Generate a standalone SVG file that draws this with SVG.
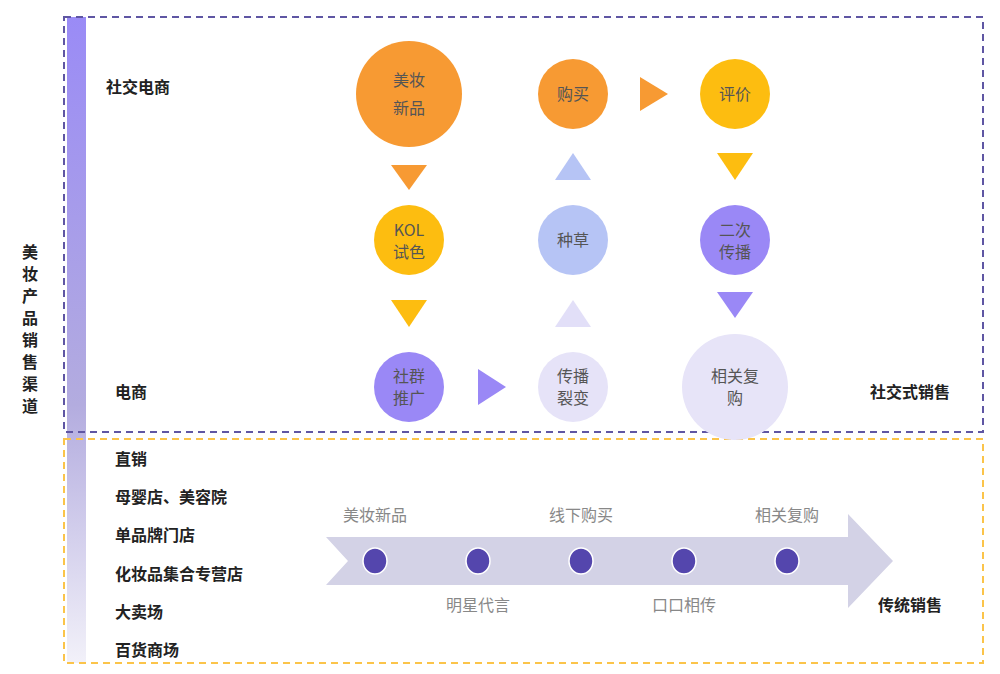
<svg xmlns="http://www.w3.org/2000/svg" width="1000" height="674" viewBox="0 0 1000 674">
<style>
text{font-family:"Noto Sans CJK SC","Noto Sans",sans-serif}
.c{font-size:16px;fill:#555;text-anchor:middle}
.l{font-size:16px;font-weight:bold;fill:#222}
.g{font-size:16px;fill:#888;text-anchor:middle}
</style>
<defs><linearGradient id="bar" x1="0" y1="0" x2="0" y2="1"><stop offset="0" stop-color="#9a8bf6"/><stop offset="0.6" stop-color="#b3acdf"/><stop offset="1" stop-color="#f2f1f9"/></linearGradient></defs>
<rect width="1000" height="674" fill="#fff"/>
<rect x="67" y="17" width="19" height="646" fill="url(#bar)"/>
<rect x="64" y="17" width="919" height="415" fill="none" stroke="#5f56a3" stroke-width="2" stroke-dasharray="7,5"/>
<rect x="64" y="439" width="919" height="224" fill="none" stroke="#fbc44a" stroke-width="2" stroke-dasharray="7,5"/>
<text class="l" x="30" y="258" text-anchor="middle"><tspan x="30" dy="0">美</tspan><tspan x="30" dy="22">妆</tspan><tspan x="30" dy="22">产</tspan><tspan x="30" dy="22">品</tspan><tspan x="30" dy="22">销</tspan><tspan x="30" dy="22">售</tspan><tspan x="30" dy="22">渠</tspan><tspan x="30" dy="22">道</tspan></text>
<text class="l" x="106" y="93">社交电商</text>
<text class="l" x="115" y="398">电商</text>
<text class="l" x="870" y="398">社交式销售</text>
<text class="l" x="115" y="465">直销</text>
<text class="l" x="115" y="503">母婴店、美容院</text>
<text class="l" x="115" y="541">单品牌门店</text>
<text class="l" x="115" y="580">化妆品集合专营店</text>
<text class="l" x="115" y="618">大卖场</text>
<text class="l" x="115" y="656">百货商场</text>
<text class="l" x="878" y="611">传统销售</text>
<g id="connectors">
<polygon points="391,165 427,165 409,190" fill="#f79a33"/>
<polygon points="391,300 427,300 409,327" fill="#fdbd10"/>
<polygon points="555,180 591,180 573,153" fill="#b6c4f5"/>
<polygon points="555,327 591,327 573,300" fill="#e2dff8"/>
<polygon points="640,77 668,94 640,111" fill="#f79a33"/>
<polygon points="717,153 753,153 735,180" fill="#fdbd10"/>
<polygon points="717,292 753,292 735,318" fill="#9a88f6"/>
<polygon points="478,369 506,387 478,405" fill="#9a88f6"/>
</g>
<g id="n1"><circle cx="409" cy="94" r="53" fill="#f79a33"/><text class="c" x="409" y="86">美妆</text><text class="c" x="409" y="114">新品</text></g>
<g id="n2"><circle cx="573" cy="94" r="35" fill="#f79a33"/><text class="c" x="573" y="100">购买</text></g>
<g id="n3"><circle cx="735" cy="94" r="35" fill="#fdbd10"/><text class="c" x="735" y="100">评价</text></g>
<g id="n4"><circle cx="409" cy="240" r="35" fill="#fdbd10"/><text class="c" x="409" y="236">KOL</text><text class="c" x="409" y="258">试色</text></g>
<g id="n5"><circle cx="573" cy="240" r="35" fill="#b6c4f5"/><text class="c" x="573" y="246">种草</text></g>
<g id="n6"><circle cx="735" cy="240" r="35" fill="#9a88f6"/><text class="c" x="735" y="236">二次</text><text class="c" x="735" y="258">传播</text></g>
<g id="n7"><circle cx="409" cy="387" r="35" fill="#9a88f6"/><text class="c" x="409" y="382">社群</text><text class="c" x="409" y="404">推广</text></g>
<g id="n8"><circle cx="573" cy="387" r="35" fill="#e6e3f8"/><text class="c" x="573" y="382">传播</text><text class="c" x="573" y="404">裂变</text></g>
<g id="n9"><circle cx="735" cy="387" r="53" fill="#e7e4f8"/><text class="c" x="735" y="382">相关复</text><text class="c" x="735" y="404">购</text></g>
<g id="timeline">
<polygon points="326,537 848,537 848,514 893,561 848,608 848,585 326,585 348,561" fill="#d3d2e6"/>
<g fill="#5446ad" stroke="#fff" stroke-width="1.5">
<ellipse cx="375" cy="561" rx="12" ry="13"/><ellipse cx="478" cy="561" rx="12" ry="13"/><ellipse cx="581" cy="561" rx="12" ry="13"/><ellipse cx="684" cy="561" rx="12" ry="13"/><ellipse cx="787" cy="561" rx="12" ry="13"/>
</g>
<text class="g" x="375" y="521">美妆新品</text>
<text class="g" x="581" y="521">线下购买</text>
<text class="g" x="787" y="521">相关复购</text>
<text class="g" x="478" y="611">明星代言</text>
<text class="g" x="684" y="611">口口相传</text>
</g>
</svg>
